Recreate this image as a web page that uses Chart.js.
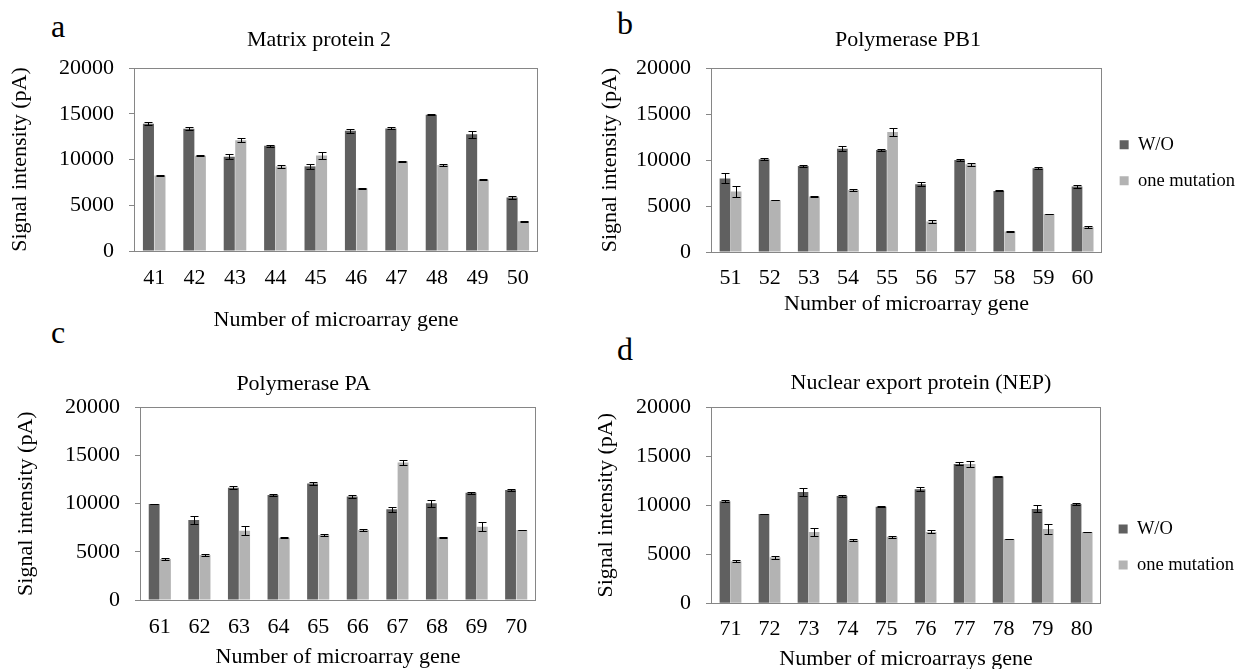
<!DOCTYPE html>
<html>
<head>
<meta charset="utf-8">
<script src="https://cdn.jsdelivr.net/npm/chart.js@4.4.1/dist/chart.umd.min.js"></script>
<style>
  body { margin: 0; width: 1235px; height: 669px; overflow: hidden; position: relative; background: #fff; }
  canvas { position: absolute; }
  .tag { position: absolute; font: 32px/32px 'Liberation Serif', serif; color: #000; }
</style>
</head>
<body>
<div class="tag" style="left:51px;top:10px">a</div>
<div class="tag" style="left:617px;top:7px">b</div>
<div class="tag" style="left:51px;top:316px">c</div>
<div class="tag" style="left:617px;top:333px">d</div>

<canvas id="chartA" width="638" height="340" style="left:0;top:0"></canvas>
<canvas id="chartB" width="674" height="320" style="left:571px;top:0"></canvas>
<canvas id="chartC" width="607" height="332" style="left:0;top:340px"></canvas>
<canvas id="chartD" width="646" height="335" style="left:598px;top:340px"></canvas>

<script>
// y axis ticks shared by all panels
const yTicks = [0, 5000, 10000, 15000, 20000];

// a - Matrix protein 2
const genesA = ['41', '42', '43', '44', '45', '46', '47', '48', '49', '50'];
const woA = [13900, 13350, 10300, 11500, 9250, 13150, 13400, 14900, 12750, 5850];
const woErrA = [180, 150, 280, 120, 280, 220, 100, 80, 400, 170];
const mutA = [8250, 10400, 12100, 9250, 10450, 6850, 9800, 9400, 7800, 3250];
const mutErrA = [50, 50, 220, 130, 380, 60, 50, 120, 80, 50];

// b - Polymerase PB1
const genesB = ['51', '52', '53', '54', '55', '56', '57', '58', '59', '60'];
const woB = [8000, 10070, 9350, 11230, 11080, 7360, 10000, 6640, 9100, 7110];
const woErrB = [550, 100, 80, 250, 150, 200, 150, 50, 120, 200];
const mutB = [6570, 5630, 6030, 6750, 13030, 3320, 9530, 2240, 4120, 2710];
const mutErrB = [580, 30, 100, 100, 400, 200, 150, 50, 30, 120];

// c - Polymerase PA
const genesC = ['61', '62', '63', '64', '65', '66', '67', '68', '69', '70'];
const woC = [9970, 8300, 11660, 10900, 12100, 10730, 9410, 10030, 11140, 11420];
const woErrC = [40, 400, 120, 120, 150, 180, 250, 400, 100, 60];
const mutC = [4260, 4670, 7200, 6470, 6750, 7270, 14260, 6500, 7610, 7270];
const mutErrC = [100, 100, 450, 60, 60, 150, 300, 30, 500, 30];

// d - Nuclear export protein (NEP)
const genesD = ['71', '72', '73', '74', '75', '76', '77', '78', '79', '80'];
const woD = [10410, 9120, 11360, 10950, 9860, 11630, 14220, 12930, 9630, 10140];
const woErrD = [120, 40, 400, 150, 40, 200, 150, 40, 350, 80];
const mutD = [4290, 4690, 7280, 6460, 6800, 7280, 14220, 6560, 7590, 7280];
const mutErrD = [100, 150, 450, 100, 100, 150, 350, 30, 500, 30];

const DARK = '#606060';
const LIGHT = '#b3b3b3';
const AXIS = '#868686';

Chart.defaults.font.family = "'Liberation Serif', 'Times New Roman', serif";
Chart.defaults.font.size = 22;
Chart.defaults.color = '#000';

// plot frame round the chart area
const frame = {
  id: 'frame',
  afterDatasetsDraw(chart) {
    const a = chart.chartArea, ctx = chart.ctx;
    ctx.save();
    ctx.strokeStyle = AXIS;
    ctx.lineWidth = 1;
    ctx.strokeRect(Math.round(a.left) + 0.5, Math.round(a.top) + 0.5,
      Math.round(a.right - a.left) - 1, Math.round(a.bottom - a.top));
    ctx.restore();
  }
};

// +/- error bars from each dataset's errors array
const errorBars = {
  id: 'errorBars',
  afterDatasetsDraw(chart) {
    const ctx = chart.ctx, y = chart.scales.y;
    ctx.save();
    ctx.strokeStyle = '#000';
    ctx.lineWidth = 1;
    chart.data.datasets.forEach((ds, i) => {
      chart.getDatasetMeta(i).data.forEach((bar, j) => {
        const v = ds.data[j], e = ds.errors[j];
        const top = Math.round(y.getPixelForValue(v + e)) + 0.5;
        const bot = Math.round(y.getPixelForValue(v - e)) + 0.5;
        const x = Math.round(bar.x) + 0.5;
        ctx.beginPath();
        ctx.moveTo(x, top); ctx.lineTo(x, bot);
        ctx.moveTo(x - 4, top); ctx.lineTo(x + 4, top);
        ctx.moveTo(x - 4, bot); ctx.lineTo(x + 4, bot);
        ctx.stroke();
      });
    });
    ctx.restore();
  }
};

function panel(id, p) {
  const scales = {
    x: {
      grid: { display: false, drawTicks: false },
      border: { display: false },
      ticks: { padding: p.xTickPad, autoSkip: false, maxRotation: 0 },
      title: { display: true, text: p.xTitle, padding: { top: 0, bottom: p.xTitlePad } },
      afterFit: s => { s.height = p.xH; }
    },
    y: {
      min: 0,
      max: 20000,
      afterBuildTicks: s => { s.ticks = yTicks.map(v => ({ value: v })); },
      ticks: { padding: 15, callback: v => String(v) },
      grid: { drawOnChartArea: false, drawTicks: true, tickLength: 5, color: AXIS },
      border: { display: false },
      title: { display: true, text: 'Signal intensity (pA)', padding: { top: p.yTitlePad, bottom: 0 } },
      afterFit: s => { s.width = p.yW; }
    }
  };
  if (p.rightGap) {
    // empty right-hand box so the chart title sits where it does in the figure
    scales.gap = {
      type: 'linear', position: 'right', display: true,
      grid: { display: false }, border: { display: false }, ticks: { display: false },
      afterFit: s => { s.width = p.rightGap; }
    };
  }
  new Chart(document.getElementById(id), {
    type: 'bar',
    data: {
      labels: p.labels,
      datasets: [
        { label: 'W/O', data: p.wo, errors: p.woErr, backgroundColor: DARK, borderWidth: 0,
          categoryPercentage: 0.57, barPercentage: 0.96 },
        { label: 'one mutation', data: p.mut, errors: p.mutErr, backgroundColor: LIGHT, borderWidth: 0,
          categoryPercentage: 0.57, barPercentage: 0.96 }
      ]
    },
    options: {
      responsive: false,
      animation: false,
      layout: { padding: 0 },
      plugins: {
        title: {
          display: true, text: p.title, color: '#000',
          font: { size: 22, weight: 'normal' },
          padding: { top: p.titleTop, bottom: p.titleBottom }
        },
        legend: {
          display: p.legendTop !== undefined,
          position: 'right',
          align: 'start',
          fullSize: false,
          // empty legend title used only as top spacing
          title: { display: true, text: '', font: { size: 10, lineHeight: 1 }, padding: { top: (p.legendTop || 10) - 10, bottom: 0 } },
          labels: { boxWidth: 9, boxHeight: 9, padding: 17.5, color: '#000', font: { size: 18.5 } }
        },
        tooltip: { enabled: false }
      },
      scales: scales
    },
    plugins: [frame, errorBars]
  });
}

panel('chartA', {
  title: 'Matrix protein 2', labels: genesA, wo: woA, woErr: woErrA, mut: mutA, mutErr: mutErrA,
  xTitle: 'Number of microarray gene',
  yW: 134, yTitlePad: 7.4, rightGap: 100, titleTop: 27.3, titleBottom: 14.3,
  xH: 89, xTickPad: 13.8, xTitlePad: 6.8
});

panel('chartB', {
  title: 'Polymerase PB1', labels: genesB, wo: woB, woErr: woErrB, mut: mutB, mutErr: mutErrB,
  xTitle: 'Number of microarray gene',
  yW: 140, yTitlePad: 25.8, titleTop: 27.3, titleBottom: 14.3,
  xH: 68, xTickPad: 12.8, xTitlePad: 2.8, legendTop: 50
});

panel('chartC', {
  title: 'Polymerase PA', labels: genesC, wo: woC, woErr: woErrC, mut: mutC, mutErr: mutErrC,
  xTitle: 'Number of microarray gene',
  yW: 140, yTitlePad: 13.5, rightGap: 71, titleTop: 31, titleBottom: 9.9,
  xH: 72, xTickPad: 13.8, xTitlePad: 1.8
});

panel('chartD', {
  title: 'Nuclear export protein (NEP)', labels: genesD, wo: woD, woErr: woErrD, mut: mutD, mutErr: mutErrD,
  xTitle: 'Number of microarrays gene',
  yW: 113, yTitlePad: -5.2, titleTop: 30, titleBottom: 10.9,
  xH: 71.7, xTickPad: 12.5, xTitlePad: 2.8, legendTop: 95
});
</script>
</body>
</html>
